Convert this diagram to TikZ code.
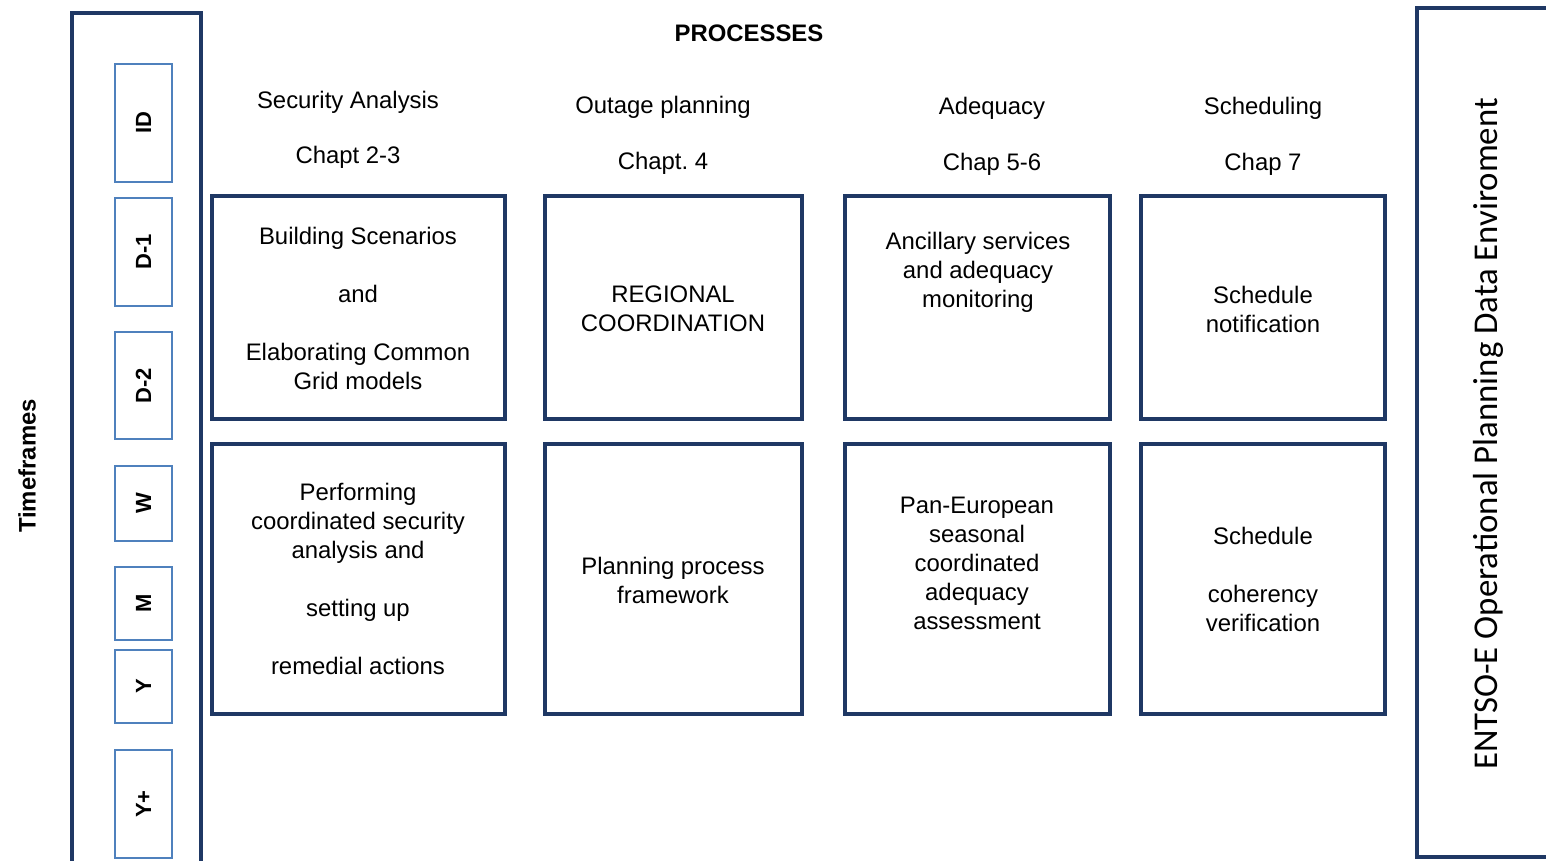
\documentclass[tikz,border=0pt]{standalone}
\usepackage{fontspec}
\setmainfont{Liberation Sans}
\newfontfamily\calibrifont{Carlito}

\definecolor{navy}{RGB}{31,56,100}
\definecolor{lightblue}{RGB}{79,129,189}

\newcommand{\skipline}{\\[16.5pt]}

\tikzset{
  framebox/.style={draw=navy, line width=2.6pt},
  procbox/.style={draw=navy, line width=2.3pt},
  tfbox/.style={draw=lightblue, line width=1.1pt, rotate=90, minimum height=1.14cm, inner sep=0pt, font=\bfseries\fontsize{12.5}{15}\selectfont},
  txt/.style={align=center, inner sep=0pt, font=\fontsize{13.6}{16.5}\selectfont},
  boldtxt/.style={txt, font=\bfseries\fontsize{13.6}{16.5}\selectfont}
}

\begin{document}
\begin{tikzpicture}[x=0.02cm,y=-0.02cm]
\useasboundingbox (0,0) rectangle (1546,861);
\clip (0,0) rectangle (1546,861);

% Outer frames
\draw[framebox] (72,13) rectangle (201,890);
\draw[framebox] (1417,8) rectangle (1600,857);

% Timeframes
\node[boldtxt, rotate=90] (timeframes) at (27,466) {Timeframes};
\node[tfbox, minimum width=2.36cm] (tfID) at (143.5,123) {ID};
\node[tfbox, minimum width=2.16cm] (tfDa) at (143.5,252) {D-1};
\node[tfbox, minimum width=2.14cm] (tfDb) at (143.5,385.5) {D-2};
\node[tfbox, minimum width=1.50cm] (tfW) at (143.5,503.5) {W};
\node[tfbox, minimum width=1.46cm] (tfM) at (143.5,603.5) {M};
\node[tfbox, minimum width=1.46cm] (tfY) at (143.5,686.5) {Y};
\node[tfbox, minimum width=2.16cm] (tfYp) at (143.5,804) {Y+};

% Environment label
\node[rotate=90, inner sep=0pt, font=\calibrifont\fontsize{19.8}{23}\selectfont] (entsoe) at (1488,434) {ENTSO-E Operational Planning Data Enviroment};

% Headers
\node[boldtxt] (processes) at (749,33) {PROCESSES};
\node[txt] (sahead) at (348,102) {Security Analysis};
\node[txt] (sachap) at (348,157) {Chapt 2-3};
\node[txt] (ophead) at (663,107) {Outage planning};
\node[txt] (opchap) at (663,163) {Chapt.\ 4};
\node[txt] (adhead) at (992,108) {Adequacy};
\node[txt] (adchap) at (992,164) {Chap 5-6};
\node[txt] (schead) at (1263,108) {Scheduling};
\node[txt] (scchap) at (1263,164) {Chap 7};

% Process boxes
\draw[procbox] (212,196) rectangle (505,419);
\draw[procbox] (545,196) rectangle (802,419);
\draw[procbox] (845,196) rectangle (1110,419);
\draw[procbox] (1141,196) rectangle (1385,419);
\draw[procbox] (212,444) rectangle (505,714);
\draw[procbox] (545,444) rectangle (802,714);
\draw[procbox] (845,444) rectangle (1110,714);
\draw[procbox] (1141,444) rectangle (1385,714);

% Box texts
\node[txt] (sabuild) at (358,308) {Building Scenarios\skipline and\skipline Elaborating Common\\Grid models};
\node[txt] (opregion) at (673,309) {REGIONAL\\COORDINATION};
\node[txt] (adancil) at (978,272.5) {Ancillary services\\and adequacy\\monitoring};
\node[txt] (scnotif) at (1263,309) {Schedule\\notification};
\node[txt] (saperf) at (358,579) {Performing\\coordinated security\\analysis and\skipline setting up\skipline remedial actions};
\node[txt] (opframe) at (673,580) {Planning process\\framework};
\node[txt] (adpan) at (977,563) {Pan-European\\seasonal\\coordinated\\adequacy\\assessment};
\node[txt] (sccoher) at (1263,579.5) {Schedule\skipline coherency\\verification};
\end{tikzpicture}
\end{document}
